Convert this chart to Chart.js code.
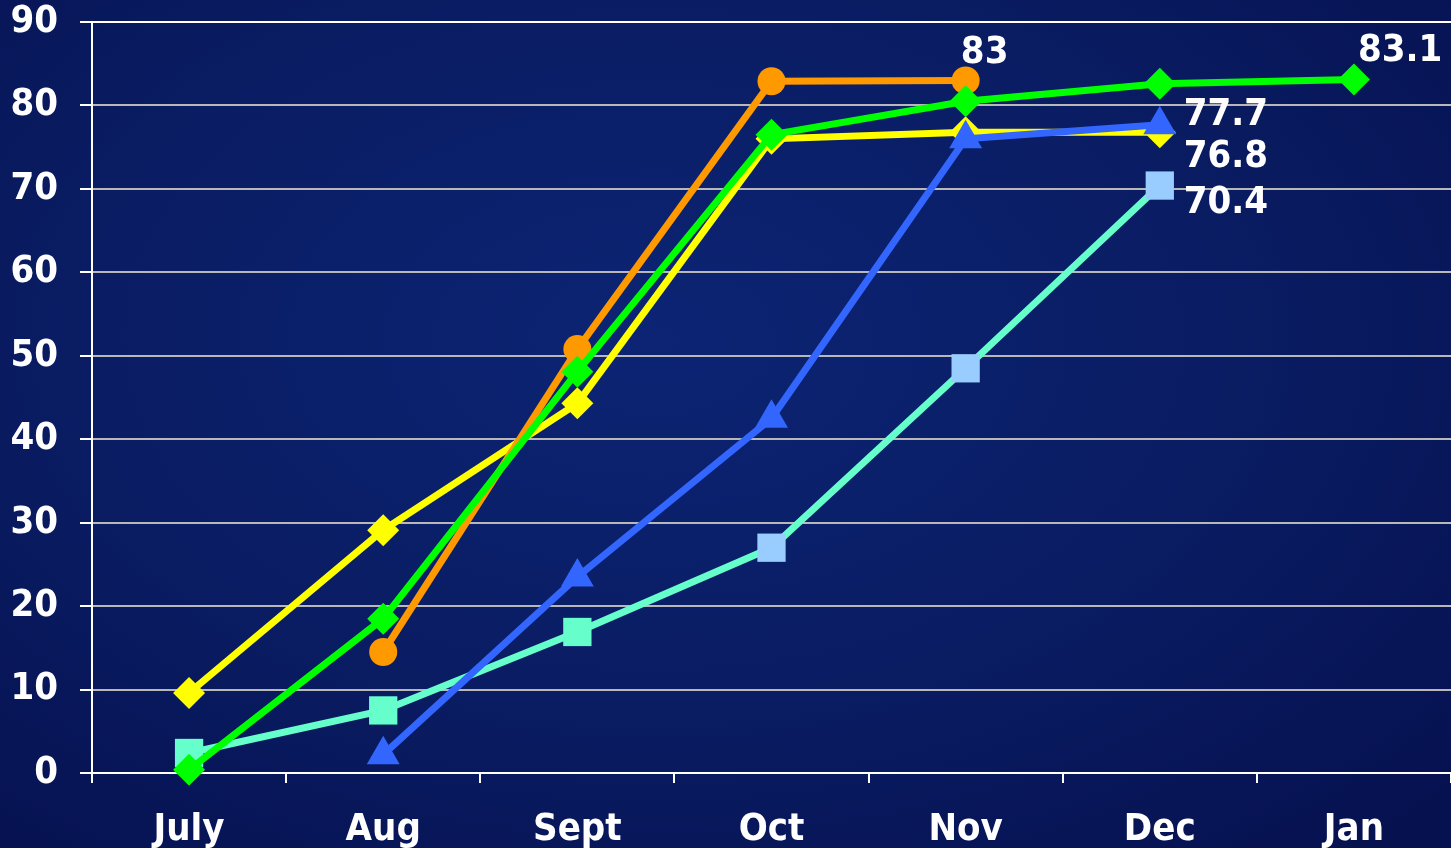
<!DOCTYPE html>
<html>
<head>
<meta charset="utf-8">
<script src="https://cdn.jsdelivr.net/npm/chart.js@4.4.1/dist/chart.umd.min.js"></script>
<style>
  html, body { margin: 0; padding: 0; }
  body {
    width: 1451px; height: 848px; overflow: hidden;
    background: radial-gradient(ellipse 75% 80% at 45% 40%, #0c2474 0%, #0a1d64 50%, #061150 100%);
  }
  #wrap { position: relative; width: 1451px; height: 848px; }
</style>
</head>
<body>
<div id="wrap"><canvas id="c"></canvas></div>
<script>
const categories = ['July', 'Aug', 'Sept', 'Oct', 'Nov', 'Dec', 'Jan'];
const yTicks = [0, 10, 20, 30, 40, 50, 60, 70, 80, 90];

const greenSeries  = [0.4, 18.5, 48.1, 76.5, 80.5, 82.6, 83.1];
const blueSeries   = [null, 2.2, 23.5, 42.5, 76.0, 77.7, null];
const orangeSeries = [null, 14.5, 50.8, 82.9, 83, null, null];
const yellowSeries = [9.6, 29.1, 44.3, 76.0, 76.8, 76.8, null];
const aquaSeries   = [2.4, 7.5, 16.9, 27.0, 48.5, 70.4, null];

const FONT = "'DejaVu Sans Condensed', 'DejaVu Sans', sans-serif";

const AQUA = '#66FFCC';
const LIGHTBLUE = '#99CCFF';
const aquaPointColors = [AQUA, AQUA, AQUA, LIGHTBLUE, LIGHTBLUE, LIGHTBLUE, LIGHTBLUE];

// which points get a value label: [datasetIndex, pointIndex, dx, dy, align]
const valueLabels = [
  [2, 4, 19, -17, 'center'],
  [0, 6, 4, -19, 'left'],
  [1, 5, 24, 0, 'left'],
  [3, 5, 24, 35, 'left'],
  [4, 5, 24, 27, 'left']
];

const labelPlugin = {
  id: 'valueLabels',
  afterDatasetsDraw(chart) {
    const ctx = chart.ctx;
    ctx.save();
    ctx.font = 'bold 38px ' + FONT;
    ctx.fillStyle = '#FFFFFF';
    ctx.textBaseline = 'alphabetic';
    valueLabels.forEach(([di, pi, dx, dy, align]) => {
      const meta = chart.getDatasetMeta(di);
      const pt = meta.data[pi];
      const v = chart.data.datasets[di].data[pi];
      ctx.textAlign = align;
      ctx.fillText(String(v), pt.x + dx, pt.y + dy);
    });
    ctx.restore();
  }
};

function ds(data, color, style, radius, pointColors) {
  return {
    data: data,
    borderColor: color,
    backgroundColor: color,
    borderWidth: 7,
    pointStyle: style,
    pointRadius: radius,
    pointHoverRadius: radius,
    pointBackgroundColor: pointColors || color,
    pointBorderColor: pointColors || color,
    pointBorderWidth: 0,
    tension: 0,
    spanGaps: false,
    clip: false
  };
}

new Chart(document.getElementById('c'), {
  type: 'line',
  data: {
    labels: categories,
    datasets: [
      ds(greenSeries, '#00FF00', 'rectRot', 16),
      ds(blueSeries, '#3366FF', 'triangle', 19),
      ds(orangeSeries, '#FF9900', 'circle', 14),
      ds(yellowSeries, '#FFFF00', 'rectRot', 16),
      ds(aquaSeries, AQUA, 'rect', 20, aquaPointColors)
    ]
  },
  options: {
    responsive: true,
    maintainAspectRatio: false,
    animation: false,
    events: [],
    layout: { padding: { top: 0, left: 0, bottom: 0, right: -5 }, autoPadding: false },
    plugins: {
      legend: { display: false },
      title: { display: false },
      tooltip: { enabled: false }
    },
    scales: {
      x: {
        type: 'category',
        offset: true,
        grid: {
          offset: true,
          drawOnChartArea: false,
          drawTicks: true,
          tickLength: 10,
          tickColor: '#FFFFFF',
          tickWidth: 2,
          lineWidth: 2,
          color: '#FFFFFF'
        },
        border: { display: true, color: '#FFFFFF', width: 2 },
        ticks: {
          color: '#FFFFFF',
          font: { family: FONT, size: 38, weight: 'bold' },
          padding: 24,
          maxRotation: 0,
          autoSkip: false
        },
        afterFit(scale) {
          scale.height = 75;
          scale.paddingLeft = 0;
          scale.paddingRight = 0;
        }
      },
      y: {
        min: 0,
        max: 90,
        afterBuildTicks(scale) { scale.ticks = yTicks.map(v => ({ value: v })); },
        grid: {
          drawTicks: true,
          tickLength: 12,
          tickColor: '#FFFFFF',
          tickWidth: 2,
          lineWidth: 2,
          color: (c) => (c.tick && c.tick.value === 90) ? '#FFFFFF' : '#B8B8B8'
        },
        border: { display: true, color: '#FFFFFF', width: 2 },
        ticks: {
          color: '#FFFFFF',
          font: { family: FONT, size: 38, weight: 'bold' },
          padding: 22
        },
        afterFit(scale) {
          scale.width = 92;
          scale.paddingTop = 22;
          scale.paddingBottom = 0;
        }
      }
    }
  },
  plugins: [labelPlugin]
});
</script>
</body>
</html>
